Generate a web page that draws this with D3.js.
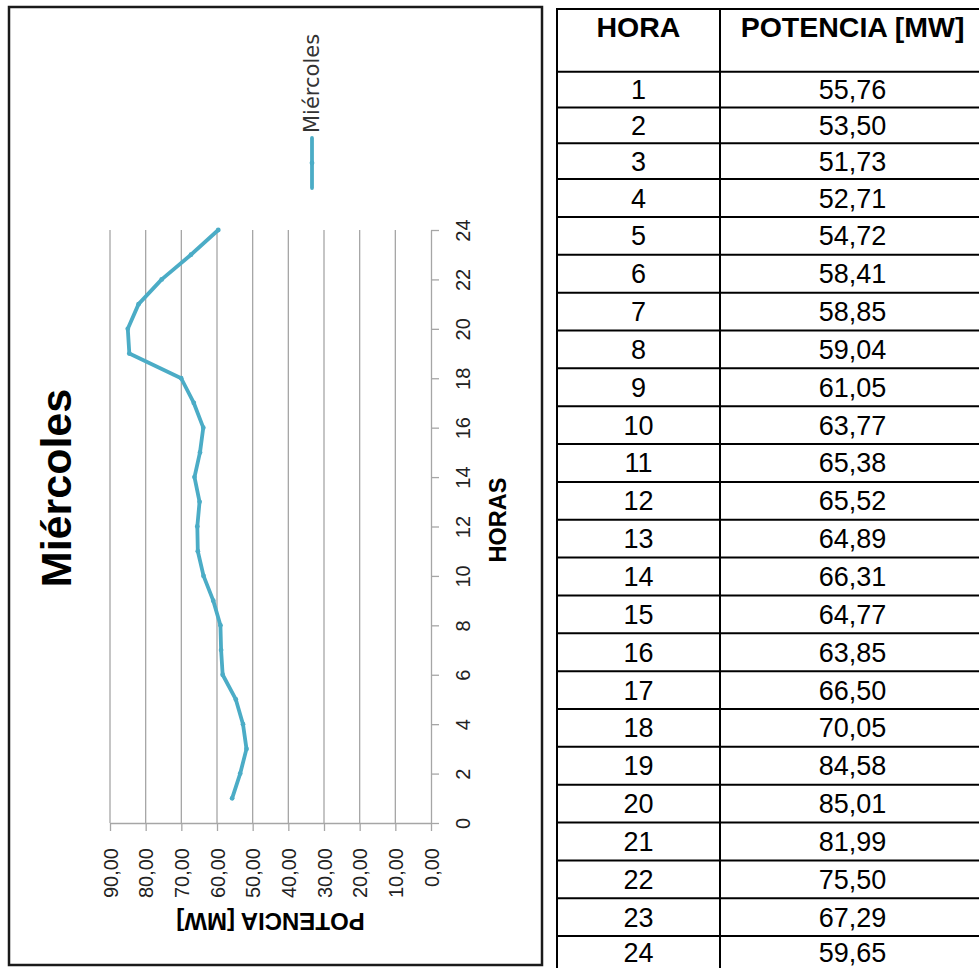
<!DOCTYPE html>
<html><head><meta charset="utf-8">
<script src="https://cdn.jsdelivr.net/npm/d3@7"></script>
<style>body{margin:0;background:#fff}svg{display:block}</style>
</head><body>
<svg id="c" width="979" height="968"></svg>
<script>
// ---------- data ----------
const hours = [1,2,3,4,5,6,7,8,9,10,11,12,13,14,15,16,17,18,19,20,21,22,23,24];
const potencia = [55.76,53.50,51.73,52.71,54.72,58.41,58.85,59.04,61.05,63.77,65.38,65.52,64.89,66.31,64.77,63.85,66.50,70.05,84.58,85.01,81.99,75.50,67.29,59.65];
const hourTicks = [0,2,4,6,8,10,12,14,16,18,20,22,24];
const valueTicks = [0,10,20,30,40,50,60,70,80,90];
const seriesName = "Miércoles";
const chartTitle = "Miércoles";
const hourTitle = "HORAS";
const valueTitle = "POTENCIA [MW]";
const tableHeaders = ["HORA","POTENCIA [MW]"];

// ---------- setup ----------
const loc = d3.formatLocale({decimal:",",thousands:".",grouping:[3],currency:["","€"]});
const fmt = loc.format(".2f");
const svg = d3.select("#c");
const COLOR = "#4bacc6", GRID = "#a6a6a6";
const ARIAL = "'Liberation Sans', Arial, sans-serif";

// chart frame
svg.append("rect").attr("x",9).attr("y",7).attr("width",533).attr("height",958)
  .attr("fill","#fff").attr("stroke","#1a1a1a").attr("stroke-width",2.5);

// scales (chart is drawn rotated: hours vertical, power horizontal reversed)
const y = d3.scaleLinear().domain([0,24]).range([823,230]);
const x = d3.scaleLinear().domain([0,90]).range([431,110]);

// gridlines
svg.append("g").selectAll("line").data(valueTicks.filter(v=>v!==0)).join("line")
  .attr("x1",d=>x(d)).attr("x2",d=>x(d)).attr("y1",y(24)).attr("y2",y(0))
  .attr("stroke",GRID).attr("stroke-width",1.3);

// hour axis (right)
const ha = svg.append("g").attr("transform",`translate(${x(0)},0)`)
  .call(d3.axisRight(y).tickValues(hourTicks).tickSize(8).tickSizeOuter(0).tickFormat(d3.format("d")));
ha.select(".domain").attr("stroke",GRID).attr("stroke-width",1.3);
ha.selectAll(".tick line").attr("stroke",GRID).attr("stroke-width",1.3);
ha.selectAll(".tick text").attr("x",null).attr("dy",null).attr("y",null)
  .attr("transform","translate(39,0) rotate(-90)").attr("text-anchor","middle")
  .attr("font-family",ARIAL).attr("font-size",20).attr("fill","#222");

// value axis (bottom)
const va = svg.append("g").attr("transform",`translate(0,${y(0)})`)
  .call(d3.axisBottom(x).tickValues(valueTicks).tickSize(8).tickSizeOuter(0).tickFormat(fmt));
va.select(".domain").attr("stroke",GRID).attr("stroke-width",1.3);
va.selectAll(".tick line").attr("stroke",GRID).attr("stroke-width",1.3);
va.selectAll(".tick text").attr("x",null).attr("dy",null).attr("y",null)
  .attr("transform","translate(7,25) rotate(-90)").attr("text-anchor","end")
  .attr("font-family",ARIAL).attr("font-size",20).attr("fill","#222");

// series line
const pts = hours.map((h,i)=>[h,potencia[i]]);
svg.append("path").datum(pts)
  .attr("d",d3.line().x(d=>x(d[1])).y(d=>y(d[0])))
  .attr("fill","none").attr("stroke",COLOR).attr("stroke-width",3.8)
  .attr("stroke-linejoin","round").attr("stroke-linecap","round");
svg.append("g").selectAll("circle").data(pts).join("circle")
  .attr("cx",d=>x(d[1])).attr("cy",d=>y(d[0])).attr("r",2.4).attr("fill",COLOR);

// titles
svg.append("text").attr("transform","translate(71,488) rotate(-90)")
  .attr("text-anchor","middle").attr("font-family",ARIAL).attr("font-weight","bold")
  .attr("font-size",43).attr("fill","#000").text(chartTitle);
svg.append("text").attr("transform","translate(506,520) rotate(-90)")
  .attr("text-anchor","middle").attr("font-family",ARIAL).attr("font-weight","bold")
  .attr("font-size",23.5).attr("fill","#000").text(hourTitle);
svg.append("text").attr("transform",`translate(${(x(0)+x(90))/2},913) rotate(180)`)
  .attr("text-anchor","middle").attr("font-family",ARIAL).attr("font-weight","bold")
  .attr("font-size",24).attr("fill","#000").text(valueTitle);

// legend
svg.append("line").attr("x1",312).attr("x2",312).attr("y1",138).attr("y2",188)
  .attr("stroke",COLOR).attr("stroke-width",3.8).attr("stroke-linecap","round");
svg.append("circle").attr("cx",312).attr("cy",163).attr("r",2.4).attr("fill",COLOR);
svg.append("text").attr("transform","translate(319,133) rotate(-90)")
  .attr("text-anchor","start").attr("font-family","'DejaVu Sans', sans-serif")
  .attr("font-size",21).attr("fill","#333").text(seriesName);

// ---------- table ----------
const tx0 = 557, tx1 = 720, tx2 = 985, ty0 = 9, tyH = 71.7;
const bounds = [tyH];
hours.forEach((h,i)=>bounds.push(bounds[i] + (i<3 ? 35.8 : 37.85)));
const tg = svg.append("g");
[ty0, ...bounds].forEach(b=>{
  tg.append("line").attr("x1",tx0).attr("x2",tx2).attr("y1",b).attr("y2",b)
    .attr("stroke","#000").attr("stroke-width",2);
});
const yEnd = bounds[bounds.length-1];
[tx0,tx1,tx2].forEach(xx=>{
  tg.append("line").attr("x1",xx).attr("x2",xx).attr("y1",ty0-1).attr("y2",yEnd+1)
    .attr("stroke","#000").attr("stroke-width",2);
});
const c1 = (tx0+tx1)/2, c2 = (tx1+tx2)/2;
tg.append("text").attr("x",c1).attr("y",37).attr("text-anchor","middle")
  .attr("font-family",ARIAL).attr("font-weight","bold").attr("font-size",28.5).text(tableHeaders[0]);
tg.append("text").attr("x",c2).attr("y",37).attr("text-anchor","middle")
  .attr("font-family",ARIAL).attr("font-weight","bold").attr("font-size",28.5).text(tableHeaders[1]);
hours.forEach((h,i)=>{
  const cy = Math.min((bounds[i]+bounds[i+1])/2 + 9.5, 962);
  tg.append("text").attr("x",c1).attr("y",cy).attr("text-anchor","middle")
    .attr("font-family",ARIAL).attr("font-size",27).text(h);
  tg.append("text").attr("x",c2).attr("y",cy).attr("text-anchor","middle")
    .attr("font-family",ARIAL).attr("font-size",27).text(fmt(potencia[i]));
});
</script>
</body></html>
